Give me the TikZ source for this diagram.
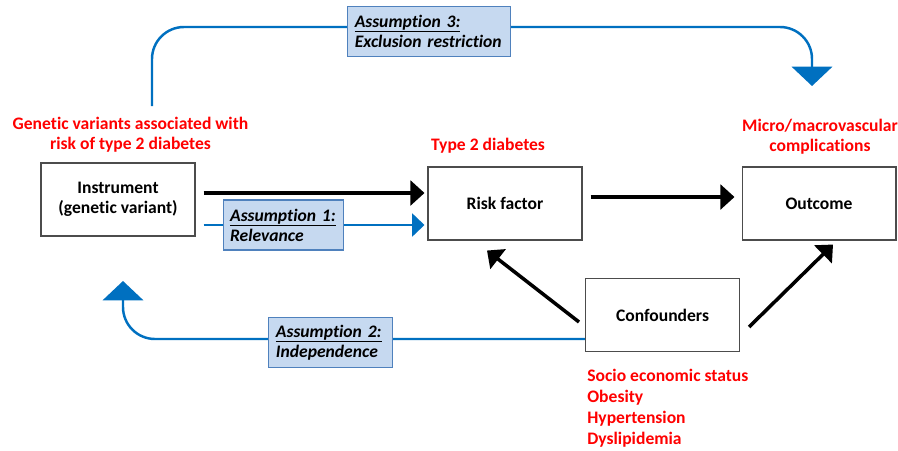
\documentclass[tikz,border=0pt]{standalone}
\usepackage{fontspec}
\setmainfont{Carlito}[Ligatures=NoCommon]
\usetikzlibrary{arrows.meta,calc}
\definecolor{offblue}{RGB}{0,112,192}
\definecolor{asfill}{RGB}{198,217,240}
\definecolor{asdraw}{RGB}{79,129,189}
\newcommand{\txt}{\fontsize{10}{11.3}\selectfont\bfseries}
\newcommand{\asul}[1]{{\setbox0\hbox{#1}\rlap{\rule[-2.5pt]{\wd0}{0.55pt}}\box0}}
\tikzset{%
	no/.style={draw=black!70, line width=0.6pt, minimum width=3.08cm, minimum height=1.46cm, inner sep=0pt, align=center, font=\txt},
	as/.style={draw=asdraw, fill=asfill, text=black, sharp corners, line width=0.6pt, inner xsep=4pt, inner ysep=0pt, minimum height=1cm, align=left, font=\txt\itshape},
	lab/.style={text=red, inner sep=0pt, align=center, font=\txt},
	arrow/.style={line width=2pt, -{Triangle[width=14pt,length=8pt]}},
	barrow/.style={offblue, line width=1.4pt, -{Triangle[width=13pt,length=7pt]}},
	loop/.style={offblue, line width=1.4pt, rounded corners=0.64cm, -{Triangle[width=23pt,length=11pt]}}}

\begin{document}
\begin{tikzpicture}[x=0.02cm, y=-0.02cm]
		\useasboundingbox (0,0) rectangle (898,450);
		
		\node[no] (instr) at (118,199.5) {Instrument\\(genetic variant)};
		\node[no] (risk) at (505,203.5) {Risk factor};
		\node[no] (outc) at (819,203.5) {Outcome};
		\node[no] (conf) at (662.5,315) {Confounders};
		
		\node[lab] (gen) at (130.5,134.5) {Genetic variants associated with\\risk of type 2 diabetes};
		\node[lab] (t2d) at (488,146) {Type 2 diabetes};
		\node[lab] (mic) at (820,137) {Micro/macrovascular\\complications};
		\node[lab, anchor=west, align=left, font=\fontsize{10}{11.9}\selectfont\bfseries] (cfl) at (587,408.5) {Socio economic status\\Obesity\\Hypertension\\Dyslipidemia};
		
		\coordinate (a3start) at (152,106);
		\coordinate (a3end) at (812,86);
		\coordinate (a2end) at (123,281);
		
		\draw[arrow] ($(instr.east)+(8,-6.5)$) -- ($(risk.west)+(-3,-10.5)$);
		\draw[arrow] ($(risk.east)+(8,-6.5)$) -- ($(outc.west)+(-7,-6.5)$);
		\draw[arrow] ($(conf.west)+(-6,7)$) -- ($(risk.south)+(-18,10)$);
		\draw[arrow] ($(conf.east)+(9,12)$) -- ($(outc.south)+(14,4)$);
		
		\draw[barrow] ($(instr.east)+(8,25.5)$) -- node[as, pos=0.36, text width={2.4cm-8pt}] (as1) {\asul{Assumption 1:}\\Relevance} ($(risk.west)+(-3,21.5)$);
		\draw[loop] ($(conf.west)+(0,24)$) -- node[as, pos=0.55, yshift=-0.07cm, text width={2.48cm-8pt}] (as2) {\asul{Assumption 2:}\\Independence} (a2end |- 0,339) -- (a2end);
		\draw[loop] (a3start) -- (a3start |- 0,27) -- node[as, pos=0.42, yshift=-0.09cm, text width={3.26cm-8pt}] (as3) {\asul{Assumption 3:}\\Exclusion restriction} (a3end |- 0,27) -- (a3end);
	\end{tikzpicture}
\end{document}
